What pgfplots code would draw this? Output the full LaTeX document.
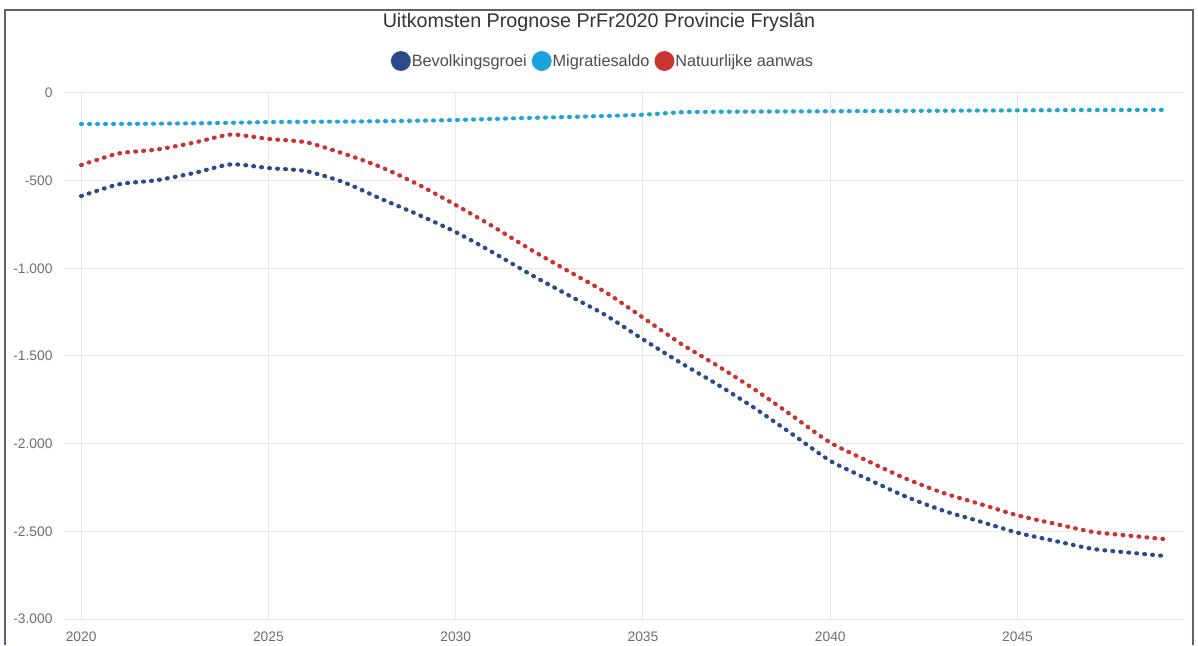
\documentclass[border=0pt]{standalone}
\usepackage{pgfplots}
\pgfplotsset{compat=1.18}
\usepackage{fontspec}
\setmainfont{Liberation Sans}
\definecolor{cBev}{HTML}{2B4A8B}
\definecolor{cMig}{HTML}{1CA3DE}
\definecolor{cNat}{HTML}{C93330}
\definecolor{cFrame}{HTML}{5B6080}
\definecolor{cGrid}{HTML}{E8E8E8}
\definecolor{cTick}{HTML}{6E6E6E}
\begin{document}
\begin{tikzpicture}
\useasboundingbox (0pt,0pt) rectangle (1198pt,645pt);
\draw[cFrame, line width=2pt] (4.5pt,0pt) -- (4.5pt,634.5pt) -- (1193pt,634.5pt) -- (1193pt,0pt);
\node[font=\fontsize{19.7}{22}\selectfont, text=black!80] at (599pt,623pt) {Uitkomsten Prognose PrFr2020 Provincie Fryslân};
\begin{axis}[
  at={(65pt,26pt)}, anchor=south west,
  scale only axis, width=1120pt, height=526pt,
  xmin=2019.57, xmax=2049.47, ymin=-3000, ymax=0,
  xtick={2020,2025,2030,2035,2040,2045},
  ytick={-3000,-2500,-2000,-1500,-1000,-500,0},
  grid=major, grid style={cGrid, line width=1pt},
  axis line style={draw=none},
  major tick length=0pt,
  /pgf/number format/assume math mode=true,
  /pgf/number format/1000 sep={.},
  xticklabel style={/pgf/number format/1000 sep={}, font=\fontsize{13.8}{16}\selectfont, text=cTick, yshift=-9pt},
  yticklabel style={font=\fontsize{13.8}{16}\selectfont, text=cTick, xshift=-9pt},
  legend columns=3,
  legend style={draw=none, fill=none, at={(axis description cs:0.4804,1.0608)}, anchor=center,
    font=\fontsize{16.3}{18}\selectfont, text=black!70, inner xsep=0pt,
    /tikz/every even column/.append style={column sep=3pt},
    /tikz/every odd column/.append style={column sep=-1pt}},
  legend image code/.code={\fill[#1, solid] (5pt,0) circle (7.8pt);},
  every axis plot/.append style={line width=4.2pt, line cap=round, dash pattern=on 0.8pt off 7.2pt, smooth, tension=0.4},
]
\addplot[cBev] coordinates {
(2020,-588) (2021,-521) (2022,-498) (2023,-457) (2024,-407) (2025,-428) (2026,-445)
(2027,-508) (2028,-603) (2029,-694) (2030,-793) (2031,-910) (2032,-1035) (2033,-1152)
(2034,-1267) (2035,-1405) (2036,-1538) (2037,-1664) (2038,-1800) (2039,-1948) (2040,-2098)
(2041,-2202) (2042,-2300) (2043,-2381) (2044,-2444) (2045,-2508) (2046,-2555) (2047,-2600)
(2048,-2622) (2049,-2642)};
\addlegendentry{Bevolkingsgroei}
\addplot[cMig] coordinates {
(2020,-177) (2021,-176) (2022,-175) (2023,-173) (2024,-170) (2025,-166) (2026,-164)
(2027,-163) (2028,-161) (2029,-158) (2030,-154) (2031,-148) (2032,-142) (2033,-137)
(2034,-131) (2035,-124) (2036,-110) (2037,-107) (2038,-106) (2039,-105) (2040,-104)
(2041,-103) (2042,-102) (2043,-101) (2044,-100) (2045,-99) (2046,-98) (2047,-97)
(2048,-97) (2049,-96)};
\addlegendentry{Migratiesaldo}
\addplot[cNat] coordinates {
(2020,-411) (2021,-345) (2022,-323) (2023,-284) (2024,-237) (2025,-262) (2026,-281)
(2027,-345) (2028,-422) (2029,-522) (2030,-639) (2031,-762) (2032,-893) (2033,-1015)
(2034,-1136) (2035,-1281) (2036,-1428) (2037,-1557) (2038,-1694) (2039,-1843) (2040,-1994)
(2041,-2099) (2042,-2198) (2043,-2280) (2044,-2344) (2045,-2409) (2046,-2457) (2047,-2503)
(2048,-2525) (2049,-2546)};
\addlegendentry{Natuurlijke aanwas}
\end{axis}
\end{tikzpicture}
\end{document}
